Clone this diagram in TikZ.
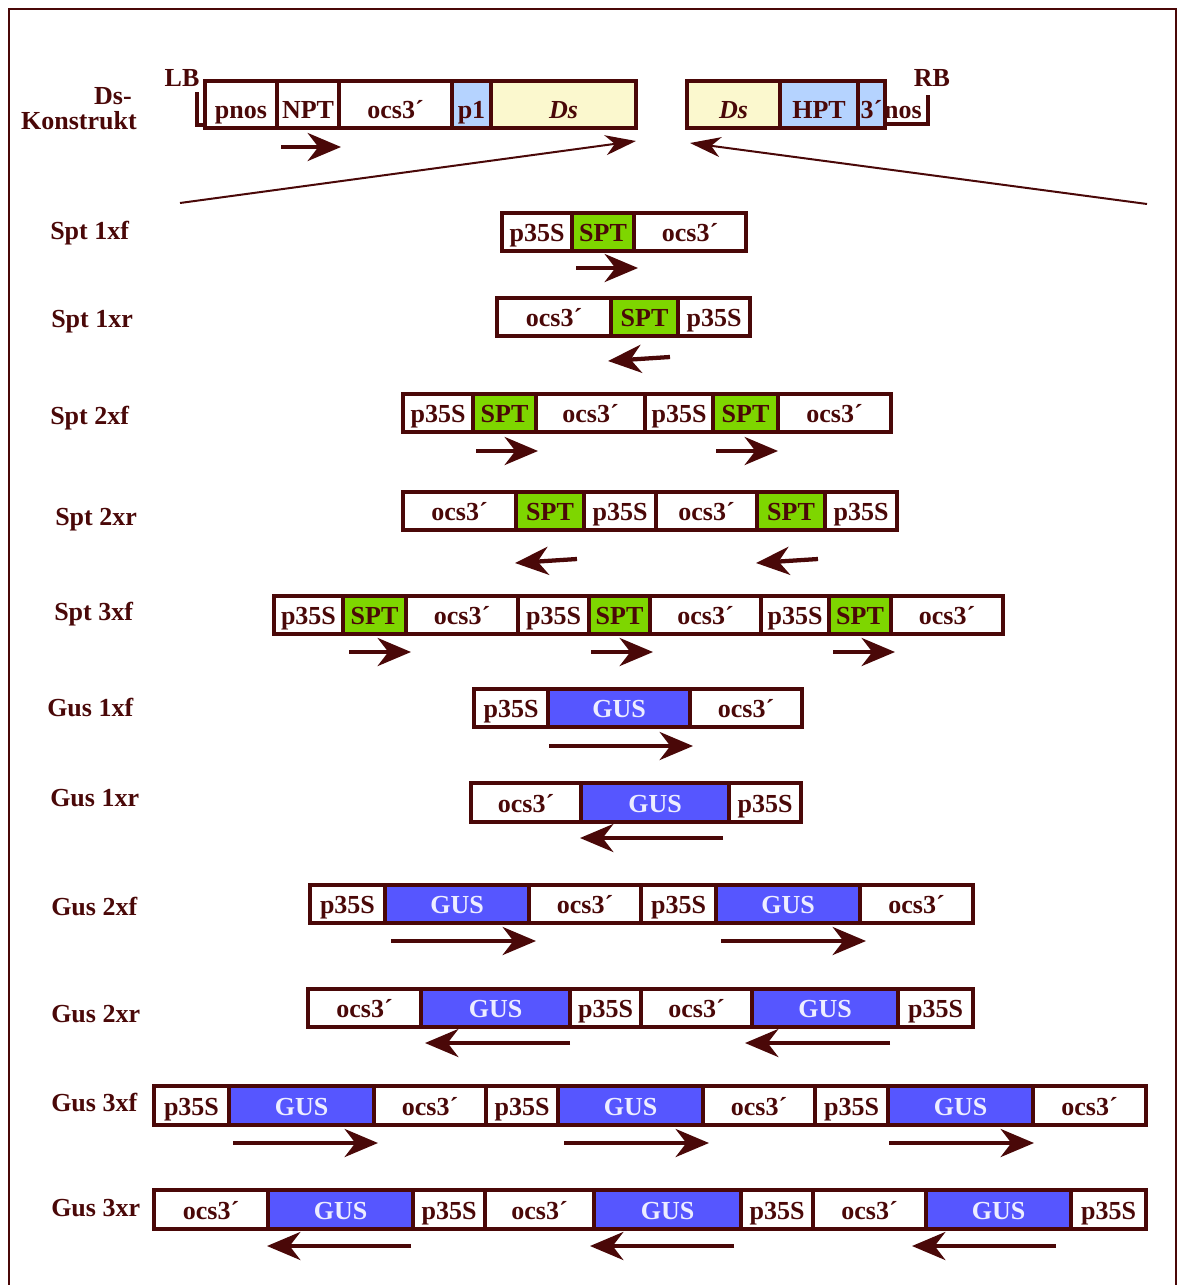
\documentclass[tikz,border=0pt]{standalone}
\usepackage{fontspec}
\setmainfont{Liberation Serif}
\usetikzlibrary{arrows.meta}
\definecolor{ink}{HTML}{4A0808}
\definecolor{sptgreen}{HTML}{7ED600}
\definecolor{gusblue}{HTML}{5656FF}
\definecolor{paleblue}{HTML}{B5D3FF}
\definecolor{dsyellow}{HTML}{FBF8CE}
\definecolor{guslabel}{HTML}{EDEDFF}
\tikzset{
  >={Stealth[length=25pt,width=21pt,inset=8pt]},
  frame/.style={draw=ink, line width=1.6pt},
  segbox/.style={draw=ink, line width=2.6pt},
  outerbox/.style={draw=ink, line width=3.2pt},
  plain/.style={fill=white},
  spt/.style={fill=sptgreen},
  gus/.style={fill=gusblue},
  pale/.style={fill=paleblue},
  dsy/.style={fill=dsyellow},
  cell text/.style={font=\bfseries\fontsize{19.5}{22}\selectfont, text=ink, inner sep=0pt, anchor=base},
  plain text/.style={cell text},
  spt text/.style={cell text},
  pale text/.style={cell text},
  dsy text/.style={cell text},
  gus text/.style={cell text, text=guslabel},
  rowlabel/.style={font=\bfseries\fontsize{19.5}{22}\selectfont, text=ink, inner sep=0pt, anchor=base west},
  dir/.style={->, draw=ink, line width=3.2pt},
  thin/.style={-{Stealth[length=23pt,width=15pt,inset=7pt]}, draw=ink, line width=1.5pt},
}

\begin{document}
\begin{tikzpicture}[x=0.75pt,y=-0.75pt]
\useasboundingbox (0,0) rectangle (1180,1285);
\draw[frame] (9,1290) -- (9,9) -- (1176,9) -- (1176,1290);

% -----------------------------------------------------------------------------
% Ds construct
% -----------------------------------------------------------------------------
\node[rowlabel, anchor=base east] (dsa) at (132,104) {Ds-};
\node[rowlabel, anchor=base east] (dsb) at (137,129.5) {Konstrukt};
\node[rowlabel, anchor=base] (lb) at (182,86) {LB};
\node[rowlabel, anchor=base] (rb) at (932,86) {RB};

\def\yt{81}\def\yb{128}
\foreach \xa/\xb/\lab/\kind [count=\i] in {205/277/pnos/plain, 277/339/NPT/plain, 339/452/ocs3´/plain, 452/491/p1/pale, 491/636/{\itshape Ds}/dsy}{
  \filldraw[segbox,\kind] (\xa,\yt) rectangle (\xb,\yb);
  \node[\kind\space text] (dl\i) at ({(\xa+\xb)/2},{\yb-10}) {\lab};
}
\draw[outerbox] (205,\yt) rectangle (636,\yb);
\foreach \xa/\xb/\lab/\kind [count=\i] in {687/780/{\itshape Ds}/dsy, 780/858/HPT/pale, 858/885/3´/pale}{
  \filldraw[segbox,\kind] (\xa,\yt) rectangle (\xb,\yb);
  \node[\kind\space text] (dr\i) at ({(\xa+\xb)/2},{\yb-10}) {\lab};
}
\draw[outerbox] (687,\yt) rectangle (885,\yb);
\node[cell text] (nos) at (903,118) {nos};

% border brackets
\draw[ink, line width=3pt] (197,92) -- (197,125) -- (205,125);
\draw[ink, line width=3pt] (885,124) -- (928,124) -- (928,95);

\draw[dir] (281,147) -- (341,147);
\draw[thin] (180,203) -- (636,141);
\draw[thin] (1147,204) -- (690,143);

% -----------------------------------------------------------------------------
% row labels
% -----------------------------------------------------------------------------
\foreach \lx/\ly/\lab [count=\i] in {50/239/Spt 1xf, 51/327/Spt 1xr, 50/424/Spt 2xf, 55/525/Spt 2xr, 54/620/Spt 3xf,
  47/716/Gus 1xf, 50/806/Gus 1xr, 51/915/Gus 2xf, 51/1022/Gus 2xr, 51/1111/Gus 3xf, 51/1216/Gus 3xr}{
  \node[rowlabel] (row\i) at (\lx,\ly) {\lab};
}

% -----------------------------------------------------------------------------
% Spt constructs
% -----------------------------------------------------------------------------
% Spt 1xf
\def\yt{213}\def\yb{251}
\foreach \xa/\xb/\lab/\kind [count=\i] in {502/572/p35S/plain, 572/634/SPT/spt, 634/746/ocs3´/plain}{
  \filldraw[segbox,\kind] (\xa,\yt) rectangle (\xb,\yb);
  \node[\kind\space text] (saf\i) at ({(\xa+\xb)/2},{(\yt+\yb)/2+9.5}) {\lab};
}
\draw[outerbox] (502,\yt) rectangle (746,\yb);
\draw[dir] (576,268) -- (638,268);

% Spt 1xr
\def\yt{298}\def\yb{336}
\foreach \xa/\xb/\lab/\kind [count=\i] in {497/611/ocs3´/plain, 611/678/SPT/spt, 678/750/p35S/plain}{
  \filldraw[segbox,\kind] (\xa,\yt) rectangle (\xb,\yb);
  \node[\kind\space text] (sar\i) at ({(\xa+\xb)/2},{(\yt+\yb)/2+9.5}) {\lab};
}
\draw[outerbox] (497,\yt) rectangle (750,\yb);
\draw[dir] (670,357) -- (608,361);

% Spt 2xf
\def\yt{394}\def\yb{432}
\foreach \xa/\xb/\lab/\kind [count=\i] in {403/473/p35S/plain, 473/536/SPT/spt, 536/645/ocs3´/plain,
  645/713/p35S/plain, 713/778/SPT/spt, 778/891/ocs3´/plain}{
  \filldraw[segbox,\kind] (\xa,\yt) rectangle (\xb,\yb);
  \node[\kind\space text] (sbf\i) at ({(\xa+\xb)/2},{(\yt+\yb)/2+9.5}) {\lab};
}
\draw[outerbox] (403,\yt) rectangle (891,\yb);
\foreach \xa in {476,716}{\draw[dir] (\xa,451) -- ++(62,0);}

% Spt 2xr
\def\yt{492}\def\yb{530}
\foreach \xa/\xb/\lab/\kind [count=\i] in {403/516/ocs3´/plain, 516/584/SPT/spt, 584/656/p35S/plain,
  656/757/ocs3´/plain, 757/825/SPT/spt, 825/897/p35S/plain}{
  \filldraw[segbox,\kind] (\xa,\yt) rectangle (\xb,\yb);
  \node[\kind\space text] (sbr\i) at ({(\xa+\xb)/2},{(\yt+\yb)/2+9.5}) {\lab};
}
\draw[outerbox] (403,\yt) rectangle (897,\yb);
\foreach \xa in {577,818}{\draw[dir] (\xa,559) -- ++(-62,4);}

% Spt 3xf
\def\yt{596}\def\yb{634}
\foreach \xa/\xb/\lab/\kind [count=\i] in {274/343/p35S/plain, 343/406/SPT/spt, 406/518/ocs3´/plain,
  518/589/p35S/plain, 589/650/SPT/spt, 650/761/ocs3´/plain,
  761/829/p35S/plain, 829/891/SPT/spt, 891/1003/ocs3´/plain}{
  \filldraw[segbox,\kind] (\xa,\yt) rectangle (\xb,\yb);
  \node[\kind\space text] (scf\i) at ({(\xa+\xb)/2},{(\yt+\yb)/2+9.5}) {\lab};
}
\draw[outerbox] (274,\yt) rectangle (1003,\yb);
\foreach \xa in {349,591,833}{\draw[dir] (\xa,652) -- ++(62,0);}

% -----------------------------------------------------------------------------
% Gus constructs
% -----------------------------------------------------------------------------
% Gus 1xf
\def\yt{689}\def\yb{727}
\foreach \xa/\xb/\lab/\kind [count=\i] in {474/548/p35S/plain, 548/690/GUS/gus, 690/802/ocs3´/plain}{
  \filldraw[segbox,\kind] (\xa,\yt) rectangle (\xb,\yb);
  \node[\kind\space text] (gaf\i) at ({(\xa+\xb)/2},{(\yt+\yb)/2+9.5}) {\lab};
}
\draw[outerbox] (474,\yt) rectangle (802,\yb);
\draw[dir] (549,746) -- (693,746);

% Gus 1xr
\def\yt{783}\def\yb{822}
\foreach \xa/\xb/\lab/\kind [count=\i] in {471/581/ocs3´/plain, 581/729/GUS/gus, 729/801/p35S/plain}{
  \filldraw[segbox,\kind] (\xa,\yt) rectangle (\xb,\yb);
  \node[\kind\space text] (gar\i) at ({(\xa+\xb)/2},{(\yt+\yb)/2+9.5}) {\lab};
}
\draw[outerbox] (471,\yt) rectangle (801,\yb);
\draw[dir] (723,838) -- (580,838);

% Gus 2xf
\def\yt{885}\def\yb{923}
\foreach \xa/\xb/\lab/\kind [count=\i] in {310/385/p35S/plain, 385/529/GUS/gus, 529/641/ocs3´/plain,
  641/716/p35S/plain, 716/860/GUS/gus, 860/973/ocs3´/plain}{
  \filldraw[segbox,\kind] (\xa,\yt) rectangle (\xb,\yb);
  \node[\kind\space text] (gbf\i) at ({(\xa+\xb)/2},{(\yt+\yb)/2+9.5}) {\lab};
}
\draw[outerbox] (310,\yt) rectangle (973,\yb);
\foreach \xa in {391,721}{\draw[dir] (\xa,941) -- ++(145,0);}

% Gus 2xr
\def\yt{989}\def\yb{1027}
\foreach \xa/\xb/\lab/\kind [count=\i] in {308/421/ocs3´/plain, 421/570/GUS/gus, 570/641/p35S/plain,
  641/752/ocs3´/plain, 752/898/GUS/gus, 898/973/p35S/plain}{
  \filldraw[segbox,\kind] (\xa,\yt) rectangle (\xb,\yb);
  \node[\kind\space text] (gbr\i) at ({(\xa+\xb)/2},{(\yt+\yb)/2+9.5}) {\lab};
}
\draw[outerbox] (308,\yt) rectangle (973,\yb);
\foreach \xa in {570,890}{\draw[dir] (\xa,1043) -- ++(-145,0);}

% Gus 3xf
\def\yt{1086}\def\yb{1125}
\foreach \xa/\xb/\lab/\kind [count=\i] in {154/229/p35S/plain, 229/374/GUS/gus, 374/486/ocs3´/plain,
  486/558/p35S/plain, 558/703/GUS/gus, 703/815/ocs3´/plain,
  815/888/p35S/plain, 888/1033/GUS/gus, 1033/1146/ocs3´/plain}{
  \filldraw[segbox,\kind] (\xa,\yt) rectangle (\xb,\yb);
  \node[\kind\space text] (gcf\i) at ({(\xa+\xb)/2},{(\yt+\yb)/2+9.5}) {\lab};
}
\draw[outerbox] (154,\yt) rectangle (1146,\yb);
\foreach \xa in {233,564,889}{\draw[dir] (\xa,1143) -- ++(145,0);}

% Gus 3xr
\def\yt{1190}\def\yb{1229}
\foreach \xa/\xb/\lab/\kind [count=\i] in {154/268/ocs3´/plain, 268/413/GUS/gus, 413/485/p35S/plain,
  485/594/ocs3´/plain, 594/741/GUS/gus, 741/813/p35S/plain,
  813/926/ocs3´/plain, 926/1071/GUS/gus, 1071/1146/p35S/plain}{
  \filldraw[segbox,\kind] (\xa,\yt) rectangle (\xb,\yb);
  \node[\kind\space text] (gcr\i) at ({(\xa+\xb)/2},{(\yt+\yb)/2+9.5}) {\lab};
}
\draw[outerbox] (154,\yt) rectangle (1146,\yb);
\foreach \xa in {411,734,1056}{\draw[dir] (\xa,1246) -- ++(-144,0);}

\end{tikzpicture}
\end{document}
